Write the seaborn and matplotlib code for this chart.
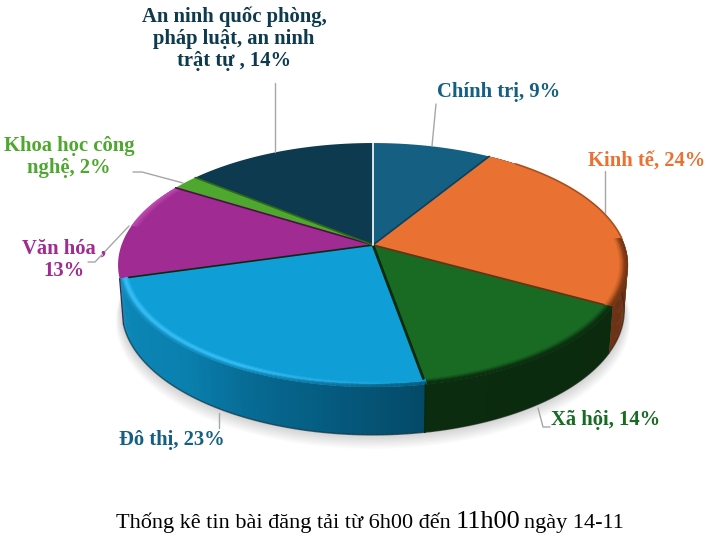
import numpy as np
import seaborn as sns
import matplotlib.pyplot as plt

categories = ['Chính trị', 'Kinh tế', 'Xã hội', 'Đô thị', 'Văn hóa', 'Khoa học công nghệ', 'An ninh quốc phòng, pháp luật, an ninh trật tự']
# slice sizes, they round to the printed percentages
values = [8.8, 24.1, 14.2, 23.4, 13.1, 2, 14.2]
face_colors = ['#156082', '#E97132', '#196B24', '#0F9ED5', '#A02B93', '#4EA72E', '#0D3A4F']
label_colors = ['#156082', '#E97132', '#196B24', '#156082', '#A02B93', '#4EA72E', '#0D3A4F']
line_colors = ['#0D3F58', '#6B2F12', '#0A2A0E', '#0A2A0E', '#4A1244', '#2C6A1A', '#FFFFFF']

label_texts = ['Chính trị, 9%', 'Kinh tế, 24%', 'Xã hội, 14%', 'Đô thị, 23%', 'Văn hóa ,\n13%', 'Khoa học công\nnghệ, 2%', 'An ninh quốc phòng,\npháp luật, an ninh\ntrật tự , 14%']
label_pos = [(499, 92), (647, 161), (606, 420), (172, 440), (64, 260), (69, 157), (234, 39)]

# leader lines, picture pixels
leaders = [
    [(436, 104), (432, 146)],
    [(605, 171), (605, 213)],
    [(538, 408), (543, 427), (550, 427)],
    [(219, 413), (219, 428)],
    [(129, 226), (95, 262), (88, 262)],
    [(133, 172), (142, 172), (183, 183)],
    [(275, 83), (275, 152)],
]

CX, CY = 373, 245
A, B, K = 251.5, 118.7, 0.164
DROP = 45


def project(theta, r=1.0, low=False):
    # tilted circle with a bit of perspective, the near side comes out bigger
    t = np.radians(theta)
    u, v = r * np.cos(t), r * np.sin(t)
    d = 1 + K * v
    if low:
        return CX + 0.985 * A * u / d, CY + DROP - 1.02 * B * v / d
    return CX + A * u / d, CY - B * v / d


def strip(th, r0, r1, color, zorder=5):
    xa, ya = project(th, r=r0)
    xb, yb = project(th[::-1], r=r1)
    ax.fill(np.r_[xa, xb], np.r_[ya, yb], color=color, lw=0.3, zorder=zorder)


sns.set_theme(style='white')
plt.rcParams['font.family'] = ['Liberation Serif', 'DejaVu Serif']

fig = plt.figure(figsize=(7.08, 5.43), dpi=100)
ax = fig.add_axes([0, 0, 1, 1])
wedges, _ = ax.pie(values, colors=face_colors, startangle=90, counterclock=False)
angles = [(w.theta1, w.theta2) for w in wedges]
for w in wedges:
    w.set_visible(False)
ax.set_xlim(0, 708)
ax.set_ylim(543, 0)
ax.axis('off')

# soft shadow under the pie
ring = np.linspace(0, 360, 200)
for i in range(12):
    x, y = project(ring, r=1 + i * 0.0022, low=True)
    ax.fill(x, y + i * 0.9, color='black', alpha=0.014, lw=0, zorder=1)

# side wall, built from thin overlapping quads
wall_palettes = {
    1: ['#6E3214', '#5A2A10'],
    2: ['#0B2C0F', '#0B2A0E'],
    3: ['#0B88B9', '#0B84B4', '#0A80AE', '#076A93', '#055A7E', '#044A68'],
}
for idx, pal in wall_palettes.items():
    t1, t2 = angles[idx]
    steps = np.linspace(t1, t2, 90)
    shades = sns.blend_palette(pal, len(steps) - 1)
    for j in range(len(steps) - 1):
        # run a little into the next quad so no seams show
        seg = np.array([steps[j], min(steps[j + 1] + 0.6, t2)])
        xt, yt = project(seg)
        xb, yb = project(seg[::-1], low=True)
        ax.fill(np.r_[xt, xb], np.r_[yt, yb], color=shades[j], lw=0, zorder=2 + j * 0.001)
    seg = np.linspace(t1, t2, 80)
    xb, yb = project(seg, low=True)
    ax.plot(xb, yb, color=sns.dark_palette(pal[-1], 3)[1], lw=1.1, zorder=3, alpha=0.7)

# top faces
for i, (t1, t2) in enumerate(angles):
    th = np.linspace(t1, t2, 120)
    x, y = project(th)
    ax.fill(np.r_[CX, x], np.r_[CY, y], color=face_colors[i], lw=0, zorder=4)

# shoulder along the near rim
green = sns.blend_palette(['#196B24', '#14561C', '#0D3512', '#0B2C0F'], 7)
orange = sns.blend_palette(['#E97132', '#C85F28', '#8A4118', '#6E3214'], 7)
purple = sns.blend_palette(['#A02B93', '#B23CA5', '#BE4DB0'], 7)
for i, seq in [(1, orange), (2, green), (4, purple)]:
    t1, t2 = angles[i]
    if i == 4:
        t2 = t1 + 22
    if i == 1:
        # the orange rim only shows its dark shoulder low down
        t2 = t1 + 32
    radii = np.linspace(0.962, 1.0, len(seq) + 1)
    th = np.linspace(t1, t2, 100)
    for k, col in enumerate(seq):
        strip(th, radii[k], radii[k + 1], col)

# thin brown edge on the rest of the orange rim
t1, t2 = angles[1]
th = np.linspace(t1 + 32, t2 - 8, 60)
x, y = project(th)
ax.plot(x, y, color='#A8501F', lw=1.2, zorder=5)

# highlight on the blue slice dies out towards the right end
t1, t2 = angles[3]
seq = ['#149FD8', '#20ACE6', '#2FBAF4', '#36C0F8', '#2FB4EA', '#1E9DCF', '#128DBF']
radii = np.linspace(0.962, 1.0, len(seq) + 1)
cut = -118
tail = np.linspace(cut, t2, 41)
for k, col in enumerate(seq):
    strip(np.linspace(t1, cut, 70), radii[k], radii[k + 1], col)
    blend = sns.blend_palette([col, '#0F9ED5' if k < 4 else '#0A5D80'], 40)
    for m in range(40):
        strip(tail[m:m + 2] + np.array([0, 0.3]), radii[k], radii[k + 1], blend[m])

# seams between slices, they stop at the shoulder
for i, (t1, t2) in enumerate(angles):
    r_end = 0.965 if i in (1, 2, 3) else 1.0
    x, y = project(np.array([t1]), r=r_end)
    w = 2.0 if i == 2 else 1.2
    ax.plot([CX, x[0]], [CY, y[0]], color=line_colors[i], lw=w, zorder=6, solid_capstyle='round')

# wall edges
t_gb = np.array([angles[2][0]])
xt, yt = project(t_gb)
xb, yb = project(t_gb, low=True)
ax.plot([xt[0], xb[0]], [yt[0], yb[0]], color='#0A2A0E', lw=1.4, zorder=6)
t_left = np.array([angles[3][0]])
xt, yt = project(t_left)
xb, yb = project(t_left, low=True)
ax.plot([xt[0], xb[0]], [yt[0], yb[0]], color='#3A2A50', lw=0.9, zorder=6)

# leaders
for pts in leaders:
    ax.plot(*zip(*pts), color='#A6A6A6', lw=1, zorder=7)

# labels
for i, txt in enumerate(label_texts):
    ax.text(label_pos[i][0], label_pos[i][1], txt, color=label_colors[i], fontsize=14.9,
            fontweight='bold', ha='center', va='center', linespacing=1.14, zorder=8)

# caption, the hour is set larger in the original
ax.text(116, 528, 'Thống kê tin bài đăng tải từ 6h00 đến', color='black', fontsize=16, ha='left', va='baseline')
ax.text(456, 528, '11h00', color='black', fontsize=18.9, ha='left', va='baseline')
ax.text(524, 528, 'ngày 14-11', color='black', fontsize=16, ha='left', va='baseline')

fig.savefig('out.png', dpi=100)
plt.close(fig)
